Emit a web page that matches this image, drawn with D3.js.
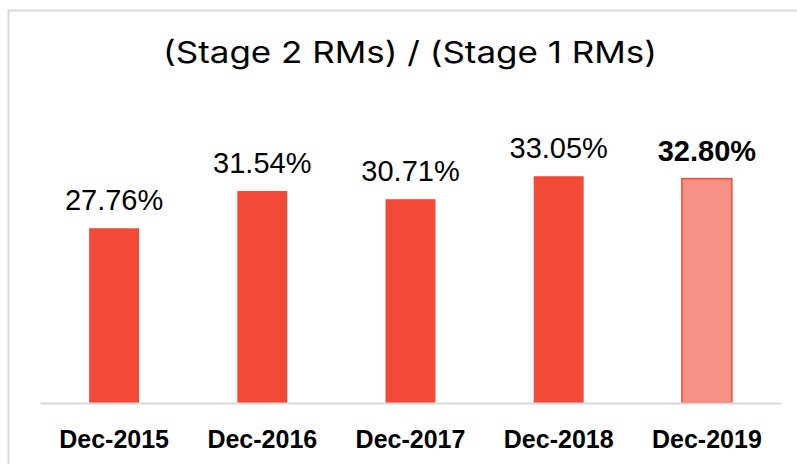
<!DOCTYPE html>
<html>
<head>
<meta charset="utf-8">
<script src="https://cdnjs.cloudflare.com/ajax/libs/d3/7.8.5/d3.min.js"></script>
<style>
  body { margin: 0; background: #fff; }
  .chart text { fill: #000; }
</style>
</head>
<body>
<svg class="chart"></svg>
<script>
const categories = ["Dec-2015", "Dec-2016", "Dec-2017", "Dec-2018", "Dec-2019"];
const values = [27.76, 31.54, 30.71, 33.05, 32.80];
const highlight = ["Dec-2019"];

const W = 797, H = 464;
const margin = {top: 157, right: 16, bottom: 61, left: 40};

const svg = d3.select(".chart")
    .attr("width", W)
    .attr("height", H);

// light frame round the chart area
svg.append("rect")
    .attr("x", 8.5)
    .attr("y", 10.5)
    .attr("width", 820)
    .attr("height", 480)
    .attr("fill", "none")
    .attr("stroke", "#d9d9d9")
    .attr("stroke-width", 2);

const x = d3.scaleBand()
    .domain(categories)
    .range([margin.left, W - margin.right])
    .paddingInner(0.663)
    .paddingOuter(0.3315);

// axis starts at 10%, not 0
const y = d3.scaleLinear()
    .domain([10, 35])
    .range([H - margin.bottom, margin.top]);

const data = categories.map((c, i) => ({cat: c, val: values[i], hi: highlight.includes(c)}));

// title font is wider than Inter, so stretch it to the reference width
svg.append("text")
    .attr("x", 410)
    .attr("y", 63)
    .attr("text-anchor", "middle")
    .attr("textLength", 494)
    .attr("lengthAdjust", "spacingAndGlyphs")
    .style("font-family", "Inter, Roboto, sans-serif")
    .style("font-size", "30px")
    .text("(Stage 2 RMs) / (Stage 1 RMs)");

svg.selectAll(".bar")
    .data(data)
  .enter().append("rect")
    .attr("class", "bar")
    .attr("x", d => x(d.cat))
    .attr("y", d => y(d.val))
    .attr("width", x.bandwidth())
    .attr("height", d => y(10) - y(d.val))
    .attr("fill", d => d.hi ? "#f59187" : "#f24a36")
    .attr("stroke", d => d.hi ? "#f24a36" : "none")
    .attr("stroke-width", 1.5);

svg.selectAll(".val")
    .data(data)
  .enter().append("text")
    .attr("class", "val")
    .attr("x", d => x(d.cat) + x.bandwidth() / 2)
    .attr("y", d => y(d.val) - 18)
    .attr("text-anchor", "middle")
    .style("font-family", "'Liberation Sans', Arial, sans-serif")
    .style("font-size", "29px")
    .style("font-weight", d => d.hi ? "bold" : "normal")
    .text(d => d.val.toFixed(2) + "%");

const xAxis = svg.append("g")
    .attr("transform", "translate(0," + y(10) + ")")
    .call(d3.axisBottom(x).tickSize(0).tickPadding(27));

xAxis.select(".domain")
    .attr("stroke", "#d9d9d9")
    .attr("stroke-width", 2);

xAxis.selectAll("text")
    .style("font-family", "'Liberation Sans', Arial, sans-serif")
    .style("font-size", "25px")
    .style("font-weight", "bold")
    .attr("fill", "#000");
</script>
</body>
</html>
